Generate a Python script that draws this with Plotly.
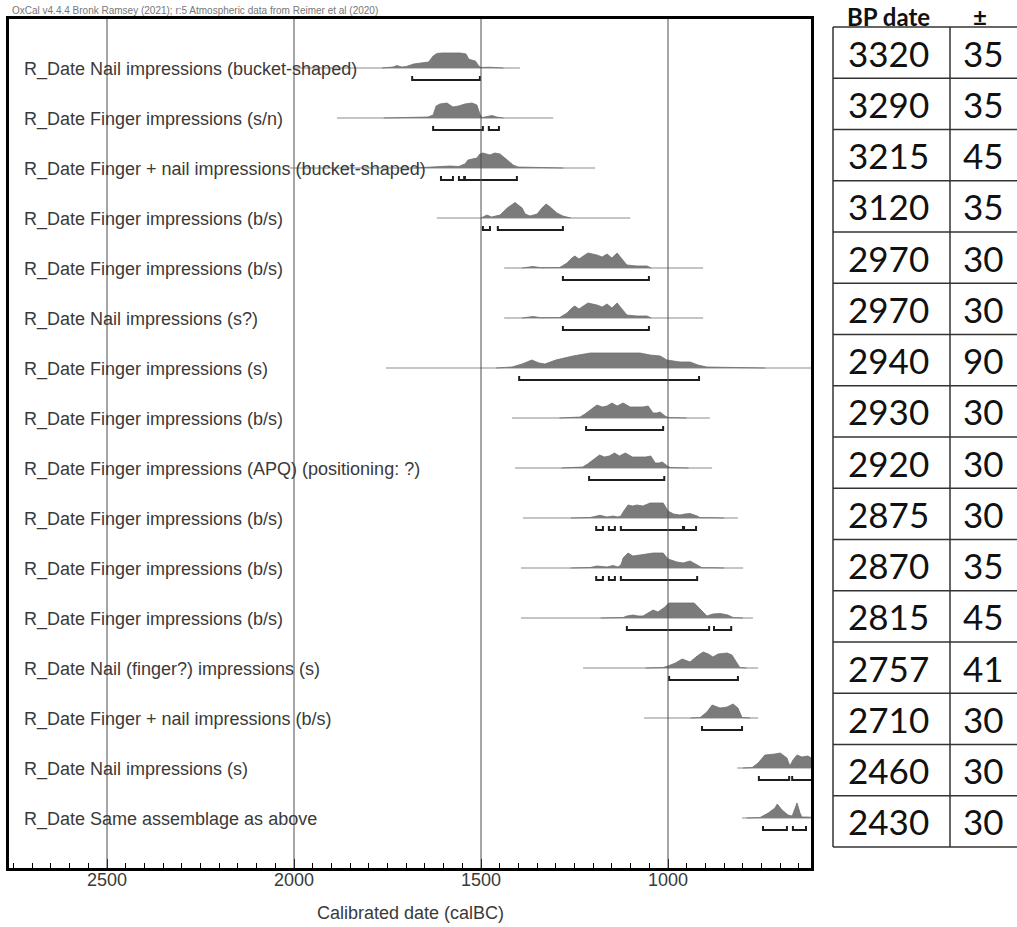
import plotly.graph_objects as go

# ---------------- data ----------------
labels = [
    "R_Date Nail impressions (bucket-shaped)",
    "R_Date Finger impressions (s/n)",
    "R_Date Finger + nail impressions (bucket-shaped)",
    "R_Date Finger impressions (b/s)",
    "R_Date Finger impressions (b/s)",
    "R_Date Nail impressions (s?)",
    "R_Date Finger impressions (s)",
    "R_Date Finger impressions (b/s)",
    "R_Date Finger impressions (APQ) (positioning: ?)",
    "R_Date Finger impressions (b/s)",
    "R_Date Finger impressions (b/s)",
    "R_Date Finger impressions (b/s)",
    "R_Date Nail (finger?) impressions (s)",
    "R_Date Finger + nail impressions (b/s)",
    "R_Date Nail impressions (s)",
    "R_Date Same assemblage as above",
]
bp_date = [3320, 3290, 3215, 3120, 2970, 2970, 2940, 2930, 2920, 2875, 2870, 2815, 2757, 2710, 2460, 2430]
bp_err = [35, 35, 45, 35, 30, 30, 90, 30, 30, 30, 35, 45, 41, 30, 30, 30]

# extent of the plotted calibration range (calBC)
line_start = [1997, 1885, 2011, 1618, 1438, 1438, 1754, 1417, 1409, 1388, 1393, 1393, 1227, 1064, 815, 802]
line_end = [1396, 1307, 1195, 1101, 906, 906, 560, 888, 882, 813, 799, 773, 759, 759, 560, 560]

# posterior probability densities (calBC, relative height)
dens_years = [
    [1765, 1735, 1725, 1712, 1700, 1680, 1660, 1640, 1628, 1618, 1605, 1580, 1555, 1540, 1533, 1525, 1515, 1506, 1500, 1480, 1460, 1440],
    [1760, 1700, 1663, 1642, 1628, 1620, 1610, 1591, 1575, 1560, 1543, 1524, 1511, 1503, 1497, 1485, 1470, 1458, 1440],
    [1680, 1615, 1583, 1560, 1543, 1535, 1520, 1511, 1503, 1495, 1476, 1463, 1449, 1430, 1414, 1401, 1360, 1310, 1280],
    [1500, 1484, 1472, 1449, 1430, 1409, 1390, 1382, 1369, 1350, 1337, 1326, 1315, 1297, 1281, 1260],
    [1390, 1361, 1340, 1290, 1283, 1270, 1257, 1249, 1238, 1214, 1190, 1176, 1163, 1150, 1136, 1120, 1110, 1083, 1056, 1045],
    [1390, 1361, 1340, 1290, 1283, 1270, 1257, 1249, 1238, 1214, 1190, 1176, 1163, 1150, 1136, 1120, 1110, 1083, 1056, 1045],
    [1460, 1436, 1417, 1390, 1364, 1345, 1329, 1300, 1254, 1208, 1147, 1075, 1048, 1021, 1003, 985, 968, 941, 920, 896, 860, 834, 780, 740],
    [1290, 1257, 1235, 1222, 1208, 1190, 1176, 1163, 1150, 1136, 1120, 1101, 1083, 1067, 1053, 1040, 1030, 1021, 1008, 1000, 980, 950],
    [1285, 1250, 1228, 1215, 1200, 1183, 1170, 1157, 1143, 1130, 1114, 1095, 1077, 1060, 1046, 1034, 1024, 1015, 1002, 994, 975, 945],
    [1260, 1208, 1182, 1170, 1163, 1147, 1134, 1126, 1120, 1107, 1095, 1083, 1067, 1048, 1013, 1003, 1000, 985, 968, 955, 941, 922, 914, 880, 850],
    [1260, 1208, 1190, 1176, 1163, 1147, 1134, 1126, 1120, 1107, 1094, 1075, 1053, 1040, 1013, 1000, 976, 960, 941, 922, 909, 880, 850],
    [1180, 1120, 1110, 1093, 1080, 1067, 1040, 1027, 1008, 998, 930, 915, 896, 880, 860, 840, 826, 800],
    [1060, 1013, 1000, 980, 962, 941, 922, 906, 892, 880, 866, 842, 829, 815, 808, 790],
    [940, 914, 896, 882, 861, 842, 826, 813, 802, 780],
    [800, 775, 759, 741, 714, 700, 682, 674, 666, 655, 642, 626, 607, 580, 560],
    [790, 754, 732, 714, 708, 695, 679, 668, 660, 655, 647, 642, 629, 607, 580],
]
dens_prob = [
    [0, 1, 2.5, 1, 1.5, 4, 5, 6, 12, 14.5, 15, 15, 15, 14, 9, 8, 7, 2, 0.5, 0.8, 0.3, 0],
    [0, 0.5, 1, 1, 3, 12, 14, 15, 11, 12, 14, 15, 13, 4, 0.5, 1.5, 2.5, 1, 0],
    [0, 1.5, 2, 1.5, 4, 8, 9, 10, 14, 15, 13, 15, 14, 8, 3, 1, 0.5, 0.3, 0],
    [0, 3, 1, 3, 10, 15.5, 10, 4, 2, 4, 10, 14, 11, 5, 2, 0],
    [0, 1.5, 0.3, 0.5, 2, 5, 10, 12, 9, 15, 13, 11, 14, 10, 15, 8, 3, 2, 2, 0],
    [0, 1.5, 0.3, 0.5, 2, 5, 10, 12, 9, 15, 13, 11, 14, 10, 15, 8, 3, 2, 2, 0],
    [0, 0.3, 1, 4, 8, 5, 4, 8, 12, 15, 15, 15, 13, 12, 8, 7, 6, 6, 3, 1, 0.8, 0.5, 0.3, 0],
    [0, 1, 1, 4, 8, 13, 11, 12, 15, 12, 15, 11, 11, 11, 12, 5, 5, 6, 2, 0.5, 0.3, 0],
    [0, 1, 1, 4, 8, 13, 11, 12, 15, 12, 15, 11, 11, 11, 12, 5, 5, 6, 2, 0.5, 0.3, 0],
    [0, 0.5, 2.7, 1.5, 1, 2, 1, 2, 6, 13, 12, 13, 12, 15, 15, 9, 7, 4, 3, 4, 4.5, 2, 0.3, 0.3, 0],
    [0, 0.5, 2, 1.5, 1, 2.5, 1, 3, 10, 15, 12, 13, 14, 15, 15, 9, 6, 5, 7, 3, 0.3, 0.3, 0],
    [0, 0.5, 2, 3, 2, 2, 8, 6, 11, 15, 15, 9, 2, 4, 4.5, 3, 0.5, 0],
    [0, 0.5, 2, 5, 9, 6, 12, 16, 14, 11, 14, 15, 13, 4, 0.5, 0],
    [0, 0.5, 6, 13, 10, 11, 14, 10, 0.5, 0],
    [0, 0.5, 5, 13, 14, 15, 10, 2, 8, 13, 11, 12, 8, 2, 0],
    [0, 0.5, 5, 10, 14, 8, 3, 2, 10, 15, 5, 1, 1, 0.5, 0],
]
# 95.4% highest posterior density ranges (calBC)
hpd_ranges = [
    [(1684, 1503)],
    [(1628, 1495), (1479, 1452)],
    [(1607, 1575), (1559, 1545), (1543, 1404)],
    [(1495, 1476), (1455, 1281)],
    [(1281, 1051)],
    [(1281, 1051)],
    [(1398, 917)],
    [(1219, 1013)],
    [(1211, 1010)],
    [(1192, 1174), (1158, 1142), (1126, 960), (957, 925)],
    [(1192, 1174), (1158, 1142), (1126, 922)],
    [(1110, 890), (877, 831)],
    [(997, 813)],
    [(909, 802)],
    [(757, 676), (668, 590)],
    [(746, 682), (666, 631)],
]
major_ticks = [2500, 2000, 1500, 1000]
major_tick_text = ["2500", "2000", "1500", "1000"]
x_title = "Calibrated date (calBC)"
header_text = "OxCal v4.4.4 Bronk Ramsey (2021); r:5 Atmospheric data from Reimer et al (2020)"
table_header = ["BP date", "±"]

# ---------------- layout helpers ----------------
W, H = 1017, 927
PX_L, PX_R, PX_T, PX_B = 9, 811, 19, 868
ROW0_PX, ROW_PX = 68, 50
X_LEFT = 2500 + (107 - PX_L) * 500 / 187
X_RIGHT = 1000 - (PX_R - 668) * 500 / 187
Y_TOP = (PX_T - ROW0_PX) / ROW_PX
Y_BOT = (PX_B - ROW0_PX) / ROW_PX
SCALE = 0.3 / 15
TXT = "#3a3a3a"
FONT = "Liberation Sans, Arial"

def pxx(p):
    return p / W

def pxy(p):
    return 1 - p / H

fig = go.Figure()
n = len(labels)
for i in range(n):
    fig.add_trace(go.Scatter(
        x=[line_start[i], line_end[i]], y=[i, i], mode="lines",
        line=dict(color="#8c8c8c", width=1.2), hoverinfo="skip", showlegend=False))
    fig.add_trace(go.Scatter(
        x=dens_years[i], y=[i - h * SCALE for h in dens_prob[i]], mode="lines",
        fill="toself", fillcolor="#7b7b7b", line=dict(color="#707070", width=0.8),
        hoverinfo="skip", showlegend=False))
    bx, by = [], []
    yb = i + 0.24
    for a, b in hpd_ranges[i]:
        bx += [a, a, b, b, None]
        by += [yb - 0.08, yb, yb, yb - 0.08, None]
    fig.add_trace(go.Scatter(
        x=bx, y=by, mode="lines", line=dict(color="#1e1e1e", width=2),
        hoverinfo="skip", showlegend=False))

shapes = []
for v in major_ticks:
    shapes.append(dict(type="line", xref="x", yref="paper", x0=v, x1=v,
                       y0=pxy(PX_B), y1=pxy(PX_T), line=dict(color="#4d4d4d", width=1),
                       layer="above"))

annotations = []
for i, lab in enumerate(labels):
    annotations.append(dict(x=pxx(22), xref="paper", y=i, yref="y", text=lab,
                            showarrow=False, xanchor="left", yanchor="middle", yshift=-1,
                            font=dict(family=FONT, size=18, color=TXT)))

for v, t in zip(major_ticks, major_tick_text):
    annotations.append(dict(x=v, xref="x", y=pxy(880), yref="paper", text=t,
                            showarrow=False, xanchor="center", yanchor="middle",
                            font=dict(family=FONT, size=18, color=TXT)))

annotations.append(dict(x=pxx(10), xref="paper", y=pxy(10), yref="paper", text=header_text,
                        showarrow=False, xanchor="left", yanchor="middle",
                        font=dict(family=FONT, size=10, color="#777777")))
annotations.append(dict(x=(pxx(PX_L) + pxx(PX_R)) / 2, xref="paper", y=pxy(913), yref="paper",
                        text=x_title, showarrow=False, xanchor="center", yanchor="middle",
                        font=dict(family=FONT, size=18, color=TXT)))

# table
T_L, T_M, T_R, T_T = 833, 950, 1017, 27
T_ROW = (847 - T_T) / len(bp_date)
for k in range(len(bp_date) + 1):
    yy = T_T + k * T_ROW
    shapes.append(dict(type="line", xref="paper", yref="paper", x0=pxx(T_L), x1=pxx(T_R),
                       y0=pxy(yy), y1=pxy(yy), line=dict(color="#333333", width=1.5)))
for xx in (T_L, T_M):
    shapes.append(dict(type="line", xref="paper", yref="paper", x0=pxx(xx), x1=pxx(xx),
                       y0=pxy(T_T), y1=pxy(T_T + len(bp_date) * T_ROW),
                       line=dict(color="#333333", width=1.5)))
for k, (d, e) in enumerate(zip(bp_date, bp_err)):
    yc = T_T + (k + 0.5) * T_ROW
    annotations.append(dict(x=pxx(888), xref="paper", y=pxy(yc), yref="paper", text=str(d),
                            showarrow=False, xanchor="center", yanchor="middle",
                            font=dict(family="Lato, Open Sans", size=35, color="#111111")))
    annotations.append(dict(x=pxx(983), xref="paper", y=pxy(yc), yref="paper", text=str(e),
                            showarrow=False, xanchor="center", yanchor="middle",
                            font=dict(family="Lato, Open Sans", size=35, color="#111111")))
annotations.append(dict(x=pxx(888), xref="paper", y=pxy(0), yref="paper",
                        text="<b>%s</b>" % table_header[0], showarrow=False,
                        xanchor="center", yanchor="top",
                        font=dict(family="Lato, Open Sans", size=24, color="#111111")))
annotations.append(dict(x=pxx(980), xref="paper", y=pxy(0), yref="paper",
                        text="<b>%s</b>" % table_header[1], showarrow=False,
                        xanchor="center", yanchor="top",
                        font=dict(family="Lato, Open Sans", size=24, color="#111111")))

fig.update_layout(
    width=W, height=H, margin=dict(l=0, r=0, t=0, b=0),
    paper_bgcolor="white", plot_bgcolor="white", showlegend=False,
    xaxis=dict(range=[X_LEFT, X_RIGHT], domain=[pxx(PX_L), pxx(PX_R)],
               showline=True, mirror=True, linecolor="black", linewidth=2.5,
               ticks="inside", ticklen=9, tickwidth=1.2, tickcolor="black",
               tickmode="array", tickvals=major_ticks, showticklabels=False,
               showgrid=False, zeroline=False,
               minor=dict(ticks="inside", ticklen=5, tickwidth=1, tickcolor="black",
                          dtick=50, tick0=0, showgrid=False)),
    yaxis=dict(range=[Y_BOT, Y_TOP], domain=[pxy(PX_B), pxy(PX_T)],
               showline=True, mirror=True, linecolor="black", linewidth=2.5,
               showticklabels=False, ticks="", showgrid=False, zeroline=False),
    shapes=shapes, annotations=annotations,
)

fig.write_html("out.html")
